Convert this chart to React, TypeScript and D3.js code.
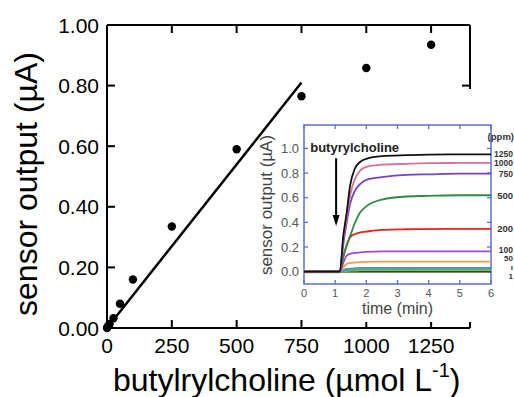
import React from "react";
import * as d3 from "d3";

// main chart: sensor output vs concentration
const concentrations = [0, 2, 5, 10, 25, 50, 100, 250, 500, 750, 1000, 1250];
const outputs = [0, 0.003, 0.007, 0.013, 0.032, 0.08, 0.16, 0.335, 0.59, 0.765, 0.858, 0.935];
const fitX = [0, 750];
const fitY = [0, 0.81];
const mainXTicks = [0, 250, 500, 750, 1000, 1250];
const mainYTicks = [0, 0.2, 0.4, 0.6, 0.8, 1.0];

// inset: time response
const inTimes = [0, 1, 1.15, 1.26, 1.37, 1.48, 1.64, 1.8, 2.0, 2.5, 3.3, 4, 5, 6];
const s1250 = [0, 0, 0, 0.29, 0.48, 0.7, 0.84, 0.89, 0.916, 0.937, 0.945, 0.95, 0.952, 0.952];
const s1000 = [0, 0, 0, 0.26, 0.44, 0.62, 0.755, 0.82, 0.85, 0.868, 0.875, 0.88, 0.882, 0.882];
const s750 = [0, 0, 0, 0.22, 0.4, 0.55, 0.66, 0.71, 0.745, 0.767, 0.786, 0.79, 0.795, 0.795];
const s500 = [0, 0, 0, 0.12, 0.22, 0.29, 0.4, 0.48, 0.53, 0.585, 0.61, 0.615, 0.62, 0.62];
const s200 = [0, 0, 0, 0.12, 0.21, 0.28, 0.306, 0.318, 0.325, 0.339, 0.344, 0.346, 0.347, 0.347];
const s100 = [0, 0, 0, 0.07, 0.13, 0.145, 0.152, 0.156, 0.16, 0.165, 0.165, 0.165, 0.165, 0.165];
const s50 = [0, 0, 0, 0.035, 0.062, 0.07, 0.075, 0.078, 0.08, 0.082, 0.082, 0.081, 0.081, 0.081];
const s10 = [0, 0, 0, 0.012, 0.02, 0.025, 0.028, 0.03, 0.03, 0.03, 0.031, 0.03, 0.03, 0.03];
const s5 = [0, 0, 0, 0.008, 0.013, 0.016, 0.018, 0.02, 0.02, 0.02, 0.02, 0.02, 0.02, 0.02];
const s2 = [0, 0, 0, 0.004, 0.006, 0.008, 0.009, 0.01, 0.01, 0.01, 0.01, 0.01, 0.01, 0.01];
const s1 = [0, 0, 0, 0, 0, 0, 0, 0, 0, 0, 0, 0, 0, 0];
const inSeries = [s1, s2, s5, s10, s50, s100, s200, s500, s750, s1000, s1250];
const inColors = ["#111", "#d8d438", "#55b84f", "#4a8fe0", "#f5a048", "#9b4fcf", "#e8221c", "#2e8a42", "#7a3fc6", "#d87293", "#111"];
const ppmLabels = ["1250", "1000", "750", "500", "200", "100", "50", "ı", "1"];
const ppmLabelVals = [0.955, 0.88, 0.795, 0.62, 0.347, 0.172, 0.108, 0.04, -0.035];
const inXTicks = [0, 1, 2, 3, 4, 5, 6];
const inYTicks = [0, 0.2, 0.4, 0.6, 0.8, 1.0];

const FONT = "'Liberation Sans', Arial, Helvetica, sans-serif";
const BLUE = "#5a6fd6";

export default function App() {
  const x = d3.scaleLinear().domain([0, 1400]).range([107, 470]);
  const y = d3.scaleLinear().domain([0, 1]).range([328, 25]);

  const ix = d3.scaleLinear().domain([0, 6]).range([304, 491]);
  const iy = d3.scaleLinear().domain([-0.1, 1.19]).range([284, 125]);

  const [x0, x1] = x.range();
  const [y0, y1] = y.range();
  const [ix0, ix1] = ix.range();
  const [iy0, iy1] = iy.range();

  const curve = d3
    .line<number>()
    .x((_, i) => ix(inTimes[i]))
    .y((d) => iy(d))
    .curve(d3.curveMonotoneX);

  const arrowT = 1.03;
  const ax = ix(arrowT);
  const aTop = iy(0.92);
  const aTip = iy(0.37);

  return (
    <svg
      width={514}
      height={397}
      style={{ position: "absolute", left: 0, top: 0, background: "#fff" }}
      fontFamily={FONT}
    >
      {/* main frame */}
      <g stroke="#000" strokeWidth={2} fill="none">
        <line x1={x0} y1={y0} x2={x1} y2={y0} />
        <line x1={x0} y1={y0} x2={x0} y2={y1} />
        <line x1={x0} y1={y1} x2={x1} y2={y1} />
        <line x1={x1} y1={y1} x2={x1} y2={y0} />
        {mainXTicks.map((t) => (
          <g key={"xt" + t}>
            <line x1={x(t)} x2={x(t)} y1={y0} y2={y0 - 8} />
            <line x1={x(t)} x2={x(t)} y1={y1} y2={y1 + 8} />
          </g>
        ))}
        {mainYTicks.map((t) => (
          <g key={"yt" + t}>
            <line x1={x0} x2={x0 + 8} y1={y(t)} y2={y(t)} />
            <line x1={x1} x2={x1 - 8} y1={y(t)} y2={y(t)} />
          </g>
        ))}
      </g>
      {mainXTicks.map((t) => (
        <text key={"xl" + t} x={x(t)} y={353} textAnchor="middle" fontSize={21}>
          {t}
        </text>
      ))}
      {mainYTicks.map((t) => (
        <text key={"yl" + t} x={x0 - 8} y={y(t)} dy="0.36em" textAnchor="end" fontSize={21}>
          {d3.format(".2f")(t)}
        </text>
      ))}
      <text x={113} y={391} fontSize={32}>
        butylrylcholine (µmol L
        <tspan fontSize={20} dy={-14}>-1</tspan>
        <tspan dy={14}>)</tspan>
      </text>
      <text transform="translate(37,184) rotate(-90)" textAnchor="middle" fontSize={32}>
        sensor output (µA)
      </text>

      <line
        x1={x(fitX[0])}
        y1={y(fitY[0])}
        x2={x(fitX[1])}
        y2={y(fitY[1])}
        stroke="#000"
        strokeWidth={2.5}
      />
      {concentrations.map((c, i) => (
        <circle key={"p" + i} cx={x(c)} cy={y(outputs[i])} r={4.2} fill="#000" />
      ))}

      {/* inset (pasted figure covers part of the main frame) */}
      <rect x={310} y={89} width={204} height={233} fill="#fff" />
      <rect x={ix0} y={iy1} width={ix1 - ix0} height={iy0 - iy1} fill="none" stroke={BLUE} strokeWidth={1.5} />
      <g stroke={BLUE} strokeWidth={1.3}>
        {inXTicks.map((t) => (
          <g key={"ixt" + t}>
            <line x1={ix(t)} x2={ix(t)} y1={iy0} y2={iy0 - 4} />
            <line x1={ix(t)} x2={ix(t)} y1={iy1} y2={iy1 + 4} />
          </g>
        ))}
        {inYTicks.map((t) => (
          <g key={"iyt" + t}>
            <line x1={ix0} x2={ix0 + 4} y1={iy(t)} y2={iy(t)} />
            <line x1={ix1} x2={ix1 - 4} y1={iy(t)} y2={iy(t)} />
          </g>
        ))}
      </g>
      {inXTicks.map((t) => (
        <text key={"ixl" + t} x={ix(t)} y={297} textAnchor="middle" fontSize={11} fill="#555">
          {t}
        </text>
      ))}
      {inYTicks.map((t) => (
        <text key={"iyl" + t} x={ix0 - 5} y={iy(t)} dy="0.36em" textAnchor="end" fontSize={13} fill="#555">
          {d3.format(".1f")(t)}
        </text>
      ))}
      <text x={(ix0 + ix1) / 2} y={314} textAnchor="middle" fontSize={16} fill="#444">
        time (min)
      </text>
      <text transform="translate(272,205) rotate(-90)" textAnchor="middle" fontSize={17} fill="#444">
        sensor output (µA)
      </text>

      {inSeries.map((s, i) => (
        <path key={"s" + i} d={curve(s) || ""} fill="none" stroke={inColors[i]} strokeWidth={i === 2 ? 3 : 1.8} />
      ))}

      <text x={ix(0.2)} y={iy(0.97)} fontSize={13} fontWeight="bold" fill="#222">
        butyrylcholine
      </text>
      <line x1={ax} x2={ax} y1={aTop} y2={aTip - 10} stroke="#000" strokeWidth={2} />
      <path d={`M${ax - 3.5},${aTip - 11}L${ax + 3.5},${aTip - 11}L${ax},${aTip}Z`} fill="#000" />

      <text x={514} y={137} dy="0.35em" textAnchor="end" fontSize={9.5} fontWeight="bold" fill="#333">
        (ppm)
      </text>
      {ppmLabels.map((l, i) => (
        <text
          key={"pl" + i}
          x={513}
          y={iy(ppmLabelVals[i])}
          dy="0.35em"
          textAnchor="end"
          fontSize={i < 3 ? 8.5 : i < 5 ? 9.5 : i === 5 ? 8.5 : 8}
          fontWeight="bold"
          fill="#333"
        >
          {l}
        </text>
      ))}
    </svg>
  );
}
